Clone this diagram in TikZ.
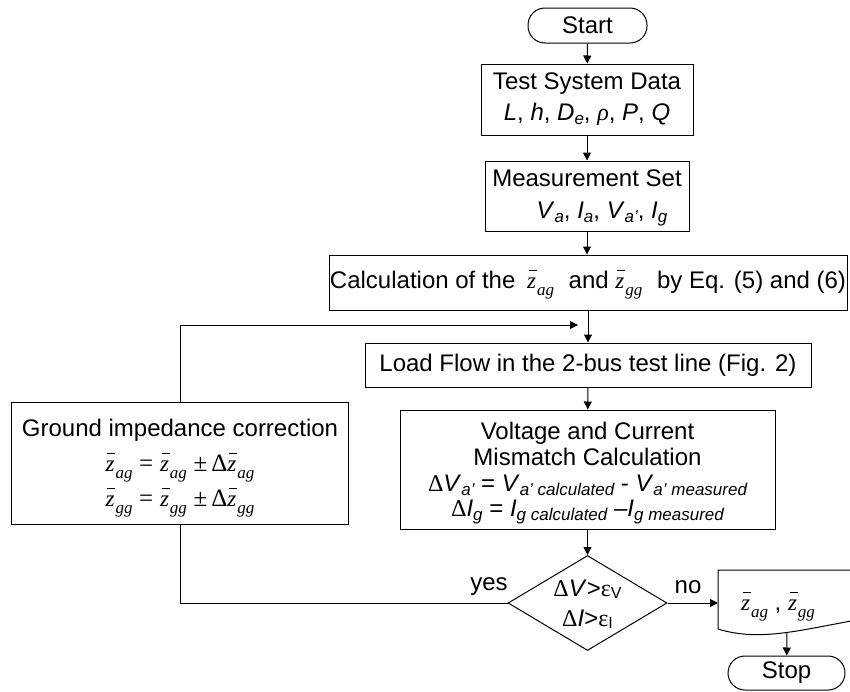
\documentclass[tikz,border=0pt]{standalone}
\usepackage{fontspec}
\setmainfont{Liberation Sans}
\newfontfamily\tms{Liberation Serif}
\usetikzlibrary{arrows.meta,shapes.geometric}
\newcommand\zsub[1]{\raisebox{-6.5pt}[0pt][0pt]{\fontsize{17}{17}\selectfont\tms\itshape #1}}
\newcommand\zb[1]{{\fontsize{23}{23}\selectfont\tms\itshape\rlap{\smash{\kern1.5pt\rule[18pt]{8pt}{0.9pt}}}z}\kern1pt\zsub{#1}}
\newcommand\sbs[1]{\raisebox{-4pt}[0pt][0pt]{\fontsize{17}{17}\selectfont\itshape #1}}
\newcommand\sbu[1]{\raisebox{-2pt}[0pt][0pt]{\fontsize{16}{16}\selectfont #1}}
\newcommand\tm[1]{{\fontsize{25}{25}\selectfont\tms #1}}
\begin{document}
\begin{tikzpicture}[x=1pt,y=-1pt,
  font=\fontsize{24}{29}\selectfont,
  line width=1pt,
  >={Triangle[length=8pt,width=8pt]},
  procbox/.style={draw, rectangle, align=center, inner sep=0pt},
  term/.style={draw, rectangle, rounded corners=17pt, inner sep=0pt},
  decision/.style={draw, diamond, aspect=1.67, inner sep=0pt, align=center}]

\useasboundingbox (0,0) rectangle (850,691);

\node[term, minimum width=119pt, minimum height=35pt] (start) at (587.5,25.5) {Start};

\node[procbox, minimum width=212pt, minimum height=71pt] (data) at (587,99.5)
  {Test System Data\\[2pt] \textit{L}, \textit{h}, \textit{D}\sbs{e}, {\tms\itshape ρ}, \textit{P}, \textit{Q}};

\node[procbox, minimum width=204pt, minimum height=70pt] (meas) at (587,196)
  {Measurement Set\\[3pt] \hspace*{30pt}\textit{V}\sbs{a}, \textit{I}\sbs{a}, \textit{V}\sbs{a'}, \textit{I}\sbs{g}};

\node[procbox, minimum width=518pt, minimum height=55pt] (calc) at (588,282.5)
  {Calculation of the\hspace{5pt} \zb{ag}\hspace{8pt} and \zb{gg}\hspace{8pt} by Eq. (5) and (6)};

\node[procbox, minimum width=446pt, minimum height=44pt] (lf) at (588,365)
  {Load Flow in the 2-bus test line (Fig. 2)};

\node[procbox, minimum width=375pt, minimum height=119pt, font=\fontsize{24}{25.7}\selectfont] (mm) at (587.5,469.5)
  {Voltage and Current\\Mismatch Calculation\\
   {\tms Δ}\textit{V}\sbs{a'} = \textit{V}\sbs{a' calculated} - \textit{V}\sbs{a' measured}\\
   {\tms Δ}\textit{I}\sbs{g} = \textit{I}\sbs{g calculated} –\textit{I}\sbs{g measured}};

\node[decision, minimum width=159pt, minimum height=95pt, font=\fontsize{24}{30}\selectfont] (dec) at (587.5,603)
  {{\tms Δ}\textit{V}>{\tms ε}\sbu{V}\\{\tms Δ}\textit{I}>{\tms ε}\sbu{I}};

\node[procbox, minimum width=337pt, minimum height=122pt, font=\fontsize{24}{35}\selectfont] (gic) at (180,463)
  {Ground impedance correction\\
   \zb{ag}\ \tm{=}\ \zb{ag}\ \tm{±}\,\tm{Δ}\zb{ag}\\
   \zb{gg}\ \tm{=}\ \zb{gg}\ \tm{±}\,\tm{Δ}\zb{gg}};

\node (yes) at (489,587) {yes};
\node (no) at (688,587) {no};

% document shape
\coordinate (docL) at (718,603);
\coordinate (docB) at (787,632);
\draw (862,570) -- (718,570) -- (718,629) .. controls (760,642) and (800,630) .. (862,619);
\node (doc) at (778,607) {\zb{ag} , \zb{gg}};

\node[term, minimum width=117pt, minimum height=34pt] (stop) at (786.5,673) {Stop};

\coordinate (loopend) at (578,325);

\draw[->] (start) -- (data);
\draw[->] (data) -- (meas);
\draw[->] (meas.south) -- (meas.south |- calc.north);
\draw[->] (calc) -- (lf);
\draw[->] (lf) -- (mm);
\draw[->] (mm) -- (dec);
\draw[->] (dec.east) -- (docL);
\draw[->] (docB) -- (stop);
\draw (dec.west) -- (gic.south |- dec.west) -- (gic.south);
\draw[->] (gic.north) -- (gic.north |- loopend) -- (loopend);
\end{tikzpicture}
\end{document}
